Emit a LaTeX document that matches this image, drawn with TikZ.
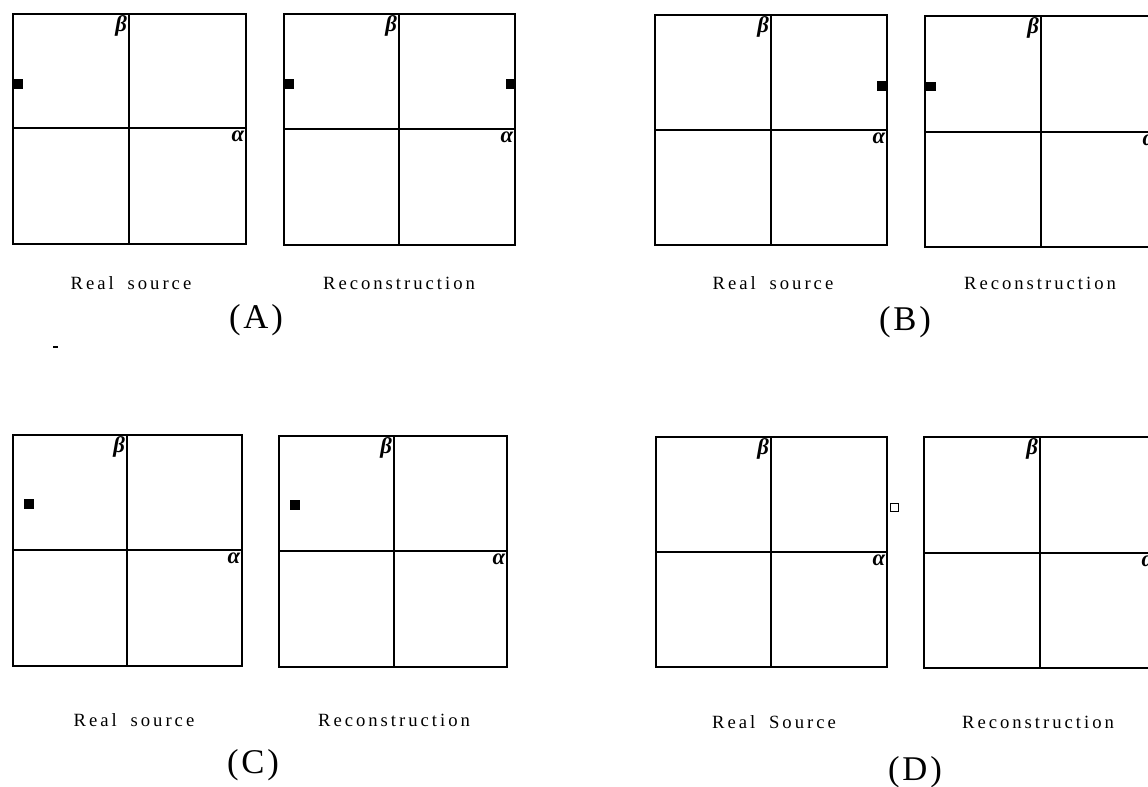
\documentclass[tikz,border=0pt]{standalone}
\usepackage{fontspec}
\setmainfont{Liberation Serif}
\newfontfamily\capfont[LetterSpace=16, WordSpace=1.8]{Liberation Serif}
\newfontfamily\tagfont[LetterSpace=8]{Liberation Serif}

\tikzset{
  plotbox/.style={draw, line width=1.4pt},
  axisline/.style={line width=1.1pt},
  axislabel/.style={inner sep=0.5pt, font=\fontsize{17}{17}\selectfont\bfseries\itshape},
  caption/.style={inner sep=0pt, font=\capfont\fontsize{14}{16}\selectfont},
  paneltag/.style={inner sep=0pt, font=\tagfont\fontsize{26}{30}\selectfont},
}

\begin{document}
\begin{tikzpicture}[x=0.75pt, y=-0.75pt]
  \useasboundingbox (0,0) rectangle (1148,787);
  \clip (0,0) rectangle (1148,787);
  % frames with alpha/beta axes
  \foreach \x/\y/\X/\Y/\cx/\cy [count=\i] in
    {13/14/246/244/129/128, 284/14/515/245/399/129,
     655/15/887/245/771/130, 925/16/1157/247/1041/132,
     13/435/242/666/127/550, 279/436/507/667/394/551,
     656/437/887/667/771/552, 924/437/1156/668/1040/553}
    {\draw[plotbox] (\x,\y) rectangle (\X,\Y);
     \draw[axisline] (\x,\cy) -- (\X,\cy) (\cx,\y) -- (\cx,\Y);
     \node[axislabel, anchor=north east] (beta\i) at (\cx-1,\y+1) {β};
     \node[axislabel, anchor=north east] (alpha\i) at (\X-1,\cy+2) {α};}
  % sources
  \foreach \x/\y/\X/\Y in
    {13/79/23/89, 284/79/294/89, 506/79/515/89, 877/81/887/91,
     926/82/936/91, 24/499/34/509, 290/500/300/510}
    {\fill (\x,\y) rectangle (\X,\Y);}
  \draw[line width=0.6pt] (890,503) rectangle (898,511);
  % captions
  \foreach \t/\px/\py [count=\i] in
    {{Real source}/131/283, Reconstruction/399/283,
     {Real source}/773/283, Reconstruction/1040/283,
     {Real source}/134/720, Reconstruction/394/720,
     {Real Source}/774/722, Reconstruction/1038/722}
    {\node[caption] (cap\i) at (\px,\py) {\t};}
  \foreach \t/\px/\py [count=\i] in
    {A/256/320, B/905/322, C/253/765, D/915/772}
    {\node[paneltag] (tag\i) at (\px,\py) {(\t)};}
  \draw[line width=0.8pt] (53,347) -- (58,347);
\end{tikzpicture}
\end{document}
